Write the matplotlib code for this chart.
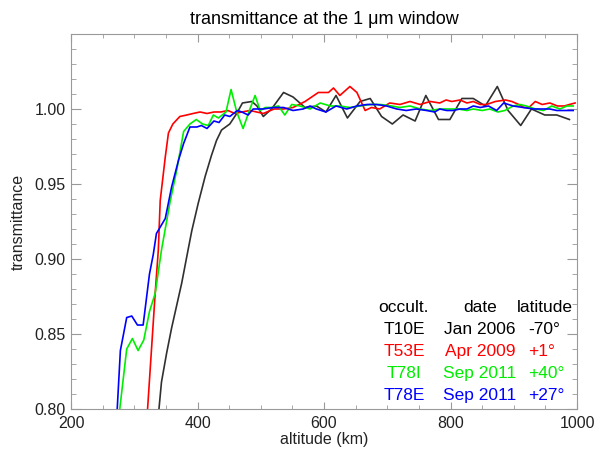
#!/usr/bin/env python3

import numpy as np
import matplotlib
matplotlib.use('Agg')
import matplotlib.pyplot as plt
from matplotlib.ticker import MultipleLocator

# altitude (km) / transmittance
alt_t10e = [339, 343, 351, 359, 375, 385, 391, 401, 412, 422,
	430, 438, 451, 462, 471, 486, 494, 504, 517, 536,
	551, 570, 588, 603, 619, 637, 657, 673, 691, 708,
	725, 744, 761, 781, 799, 818, 836, 855, 874, 891,
	911, 928, 949, 968, 988]
tr_t10e = [0.800, 0.818, 0.837, 0.854, 0.884, 0.906, 0.919, 0.937, 0.955, 0.969,
	0.979, 0.986, 0.990, 0.997, 1.004, 1.005, 1.002, 0.995, 1.000, 1.011,
	1.008, 1.001, 1.002, 0.998, 1.009, 0.994, 1.005, 1.007, 0.995, 0.990,
	0.996, 0.992, 1.009, 0.993, 0.993, 1.007, 1.007, 1.002, 1.015, 0.999,
	0.989, 1.000, 0.996, 0.996, 0.993]

alt_t53e = [321, 333, 338, 341, 349, 354, 361, 372, 383, 393,
	404, 415, 426, 437, 448, 459, 470, 483, 504, 521,
	536, 551, 570, 591, 607, 615, 625, 641, 652, 665,
	675, 688, 704, 720, 736, 752, 768, 783, 793, 802,
	815, 826, 836, 847, 857, 871, 887, 897, 908, 916,
	924, 934, 945, 957, 969, 980, 988, 997]
tr_t53e = [0.800, 0.877, 0.906, 0.939, 0.968, 0.984, 0.990, 0.995, 0.996, 0.997,
	0.998, 0.997, 0.998, 0.998, 0.999, 0.997, 0.998, 0.999, 0.997, 1.000,
	1.000, 1.001, 1.005, 1.011, 1.011, 1.014, 1.009, 1.015, 1.011, 0.999,
	1.001, 1.000, 1.004, 1.003, 1.005, 1.003, 1.005, 1.004, 1.006, 1.005,
	1.006, 1.004, 1.005, 1.003, 1.003, 1.005, 1.006, 1.005, 1.003, 1.001,
	1.001, 1.005, 1.003, 1.004, 1.002, 1.002, 1.003, 1.004]

alt_t78i = [277, 288, 297, 306, 315, 324, 333, 343, 357, 367,
	378, 388, 398, 408, 417, 425, 433, 445, 453, 462,
	472, 482, 491, 499, 507, 517, 528, 538, 549, 562,
	578, 594, 610, 625, 641, 657, 673, 689, 707, 720,
	736, 752, 768, 783, 799, 812, 826, 836, 850, 862,
	875, 886, 899, 910, 920, 934, 947, 960, 973, 984,
	994]
tr_t78i = [0.800, 0.840, 0.847, 0.839, 0.846, 0.865, 0.877, 0.906, 0.939, 0.959,
	0.985, 0.990, 0.993, 0.990, 0.989, 0.996, 0.994, 0.998, 1.013, 0.998,
	0.987, 0.999, 1.009, 0.999, 1.001, 1.001, 1.002, 0.996, 1.003, 1.002,
	1.000, 1.004, 1.002, 1.002, 1.001, 1.002, 1.003, 1.003, 1.002, 1.001,
	1.002, 1.000, 0.999, 1.000, 1.000, 1.000, 0.999, 1.000, 0.999, 1.000,
	0.998, 0.999, 1.002, 1.003, 1.002, 1.000, 0.999, 1.002, 1.000, 1.002,
	1.002]

alt_t78e = [273, 278, 288, 296, 305, 314, 324, 330, 335, 349,
	359, 370, 378, 388, 399, 406, 415, 426, 434, 443,
	451, 463, 470, 480, 488, 504, 520, 536, 551, 567,
	578, 588, 603, 619, 636, 652, 668, 683, 699, 715,
	730, 746, 762, 775, 783, 794, 804, 815, 826, 836,
	847, 860, 873, 884, 899, 915, 931, 941, 957, 968,
	981, 994]
tr_t78e = [0.800, 0.839, 0.861, 0.862, 0.856, 0.856, 0.890, 0.903, 0.917, 0.927,
	0.948, 0.966, 0.977, 0.988, 0.988, 0.989, 0.987, 0.992, 0.991, 0.996,
	0.995, 0.999, 0.998, 0.996, 1.000, 1.000, 1.001, 1.001, 0.999, 1.000,
	1.002, 1.000, 0.998, 1.002, 1.000, 1.002, 1.003, 1.003, 1.002, 1.000,
	0.999, 1.000, 0.999, 0.998, 1.000, 0.999, 0.999, 1.000, 1.000, 1.002,
	1.001, 1.002, 0.999, 1.004, 1.002, 1.001, 1.000, 1.000, 1.000, 0.999,
	0.999, 0.999]

occults = ['T10E', 'T53E', 'T78I', 'T78E']
dates = ['Jan 2006', 'Apr 2009', 'Sep 2011', 'Sep 2011']
lats = ['-70°', '+1°', '+40°', '+27°']
colors = ['#303030', '#ff0000', '#00ee00', '#0000ff']
text_colors = ['black', '#ff0000', '#00ee00', '#0000ff']

plt.rcParams['font.family'] = ['Liberation Sans', 'DejaVu Sans']

fig = plt.figure(figsize=(5.97, 4.5), dpi=100)
ax = fig.add_axes([0.119, 0.091, 0.8475, 0.8335])

series = [(alt_t10e, tr_t10e), (alt_t53e, tr_t53e), (alt_t78i, tr_t78i), (alt_t78e, tr_t78e)]
for (a, t), c in zip(series, colors):
	ax.plot(a, t, color=c, linewidth=1.2)

ax.set_xlim(200, 1000)
ax.set_ylim(0.80, 1.05)
ax.set_xticks(np.arange(200, 1001, 200))
ax.set_yticks([0.80, 0.85, 0.90, 0.95, 1.00])
ax.set_yticklabels(['0.80', '0.85', '0.90', '0.95', '1.00'])
ax.xaxis.set_minor_locator(MultipleLocator(50))
ax.yaxis.set_minor_locator(MultipleLocator(0.01))
ax.tick_params(axis='both', which='both', direction='in', top=True, right=True, color='0.6', labelsize=11.5, labelcolor='#222222')
ax.tick_params(axis='x', which='major', length=5.4, pad=5)
ax.tick_params(axis='x', which='minor', length=2.7)
ax.tick_params(axis='y', which='major', length=7.2, pad=4)
ax.tick_params(axis='y', which='minor', length=3.6)
for s in ax.spines.values():
	s.set_color('0.6')

ax.set_xlabel('altitude (km)', fontsize=11.5, color='#222222', labelpad=1)
ax.set_ylabel('transmittance', fontsize=11.5, color='#222222', labelpad=6)
ax.set_title('transmittance at the 1 μm window', fontsize=13, pad=7)

# table-style legend
ax.text(0.658, 0.272, 'occult.', transform=ax.transAxes, ha='center', va='center', fontsize=12.5)
ax.text(0.808, 0.272, 'date', transform=ax.transAxes, ha='center', va='center', fontsize=12.5)
ax.text(0.881, 0.272, 'latitude', transform=ax.transAxes, ha='left', va='center', fontsize=12.5)
for i in range(4):
	y = 0.211 - i * 0.058
	ax.text(0.658, y, occults[i], transform=ax.transAxes, ha='center', va='center', fontsize=12.5, color=text_colors[i])
	ax.text(0.808, y, dates[i], transform=ax.transAxes, ha='center', va='center', fontsize=12.5, color=text_colors[i])
	ax.text(0.903, y, lats[i], transform=ax.transAxes, ha='left', va='center', fontsize=12.5, color=text_colors[i])

plt.savefig('out.png', dpi=100)
plt.close()
